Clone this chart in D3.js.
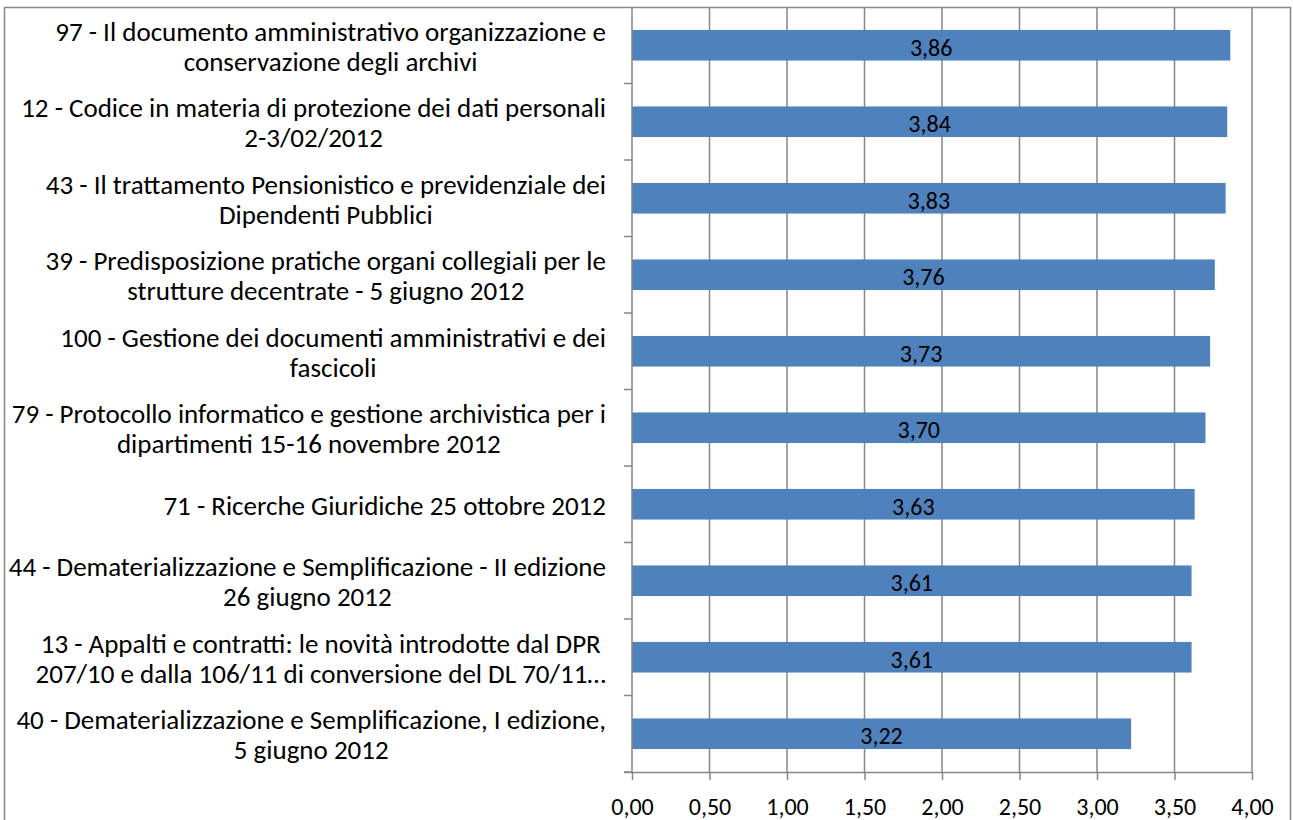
<!DOCTYPE html>
<html>
<head>
<meta charset="utf-8">
<script src="https://cdn.jsdelivr.net/npm/d3@7"></script>
<style>
  body { margin: 0; background: #fff; }
  text { font-family: Carlito, Calibri, Lato, sans-serif; fill: #000; }
</style>
</head>
<body>
<svg id="chart"></svg>
<script>
const width = 1293
const height = 820

// Category labels (one array of lines per course), top to bottom
const categories = [
    ['97 - Il documento amministrativo organizzazione e', 'conservazione degli archivi'],
    ['12 - Codice in materia di protezione dei dati personali', '2-3/02/2012'],
    ['43 - Il trattamento Pensionistico e previdenziale dei', 'Dipendenti Pubblici'],
    ['39 - Predisposizione pratiche organi collegiali per le', 'strutture decentrate - 5 giugno 2012'],
    ['100 - Gestione dei documenti amministrativi e dei', 'fascicoli'],
    ['79 - Protocollo informatico e gestione archivistica per i', 'dipartimenti 15-16 novembre 2012'],
    ['71 - Ricerche Giuridiche 25 ottobre 2012 '],
    ['44 - Dematerializzazione e Semplificazione - II edizione', '26 giugno 2012'],
    ['13 - Appalti e contratti: le novità introdotte dal DPR', '207/10 e dalla 106/11 di conversione del DL 70/11…'],
    ['40 - Dematerializzazione e Semplificazione, I edizione,', '5 giugno 2012']
];
const values = [3.86, 3.84, 3.83, 3.76, 3.73, 3.70, 3.63, 3.61, 3.61, 3.22];
const xTicks = [0, 0.5, 1, 1.5, 2, 2.5, 3, 3.5, 4];

const margin = { top: 7, right: 41, bottom: 48, left: 632 };
const fmt = v => d3.format('.2f')(v).replace('.', ',');

var svg = d3.select('#chart')
    .attr('width', width)
    .attr('height', height);

// Outer chart border
svg.append('rect')
    .attr('x', 4.5).attr('y', 7.5)
    .attr('width', 1286).attr('height', 830)
    .attr('fill', 'none')
    .attr('stroke', '#868686')
    .attr('stroke-width', 1.5);

var x = d3.scaleLinear()
    .domain([0, 4])
    .range([margin.left, width - margin.right]);

var idx = d3.range(categories.length);
var y = d3.scaleBand()
    .domain(idx)
    .range([margin.top, height - margin.bottom])
    .paddingInner(0.6)
    .paddingOuter(0.3);

// Vertical gridlines
svg.append('g')
    .selectAll('line')
    .data(xTicks.slice(1))
    .enter()
    .append('line')
    .attr('x1', d => x(d)).attr('x2', d => x(d))
    .attr('y1', margin.top).attr('y2', height - margin.bottom)
    .attr('stroke', '#868686')
    .attr('stroke-width', 1.5);

// Bars
svg.append('g')
    .selectAll('rect')
    .data(values)
    .enter()
    .append('rect')
    .attr('x', x(0))
    .attr('y', (d, i) => y(i))
    .attr('width', d => x(d) - x(0))
    .attr('height', y.bandwidth())
    .attr('fill', '#4f81bd');

// Value labels in the middle of the bars
svg.append('g')
    .selectAll('text')
    .data(values)
    .enter()
    .append('text')
    .attr('x', d => (x(0) + x(d)) / 2)
    .attr('y', (d, i) => y(i) + y.bandwidth() / 2 + 2)
    .attr('dy', '0.35em')
    .attr('text-anchor', 'middle')
    .style('font-size', '24px')
    .text(d => fmt(d));

// Bottom axis
var xAxis = svg.append('g')
    .attr('transform', `translate(0,${height - margin.bottom})`)
    .call(d3.axisBottom(x).tickValues(xTicks).tickFormat(fmt).tickSize(8).tickPadding(18));
xAxis.select('.domain').attr('stroke', '#868686').attr('stroke-width', 1.5)
    .attr('d', `M${x(0) - 8},0.5H${x(4)}`);
xAxis.selectAll('.tick line').attr('stroke', '#868686').attr('stroke-width', 1.5);
xAxis.selectAll('.tick text').style('font-size', '24px').attr('font-family', null);

// Left axis (category boundaries)
var step = y.step();
var boundaries = d3.range(categories.length + 1).map(i => margin.top + i * step);
svg.append('line')
    .attr('x1', x(0)).attr('x2', x(0))
    .attr('y1', margin.top).attr('y2', height - margin.bottom)
    .attr('stroke', '#868686')
    .attr('stroke-width', 1.5);
svg.append('g')
    .selectAll('line')
    .data(boundaries.slice(1))
    .enter()
    .append('line')
    .attr('x1', x(0) - 8).attr('x2', x(0))
    .attr('y1', d => d).attr('y2', d => d)
    .attr('stroke', '#868686')
    .attr('stroke-width', 1.5);

// Category labels: centred lines, block right-aligned to the axis
const labelRight = 606;
const lineH = 30;
var labels = svg.append('g')
    .selectAll('text')
    .data(categories)
    .enter()
    .append('text')
    .attr('text-anchor', 'middle')
    .style('font-size', '27px');

labels.each(function (lines, i) {
    var t = d3.select(this);
    var cy = y(i) + y.bandwidth() / 2 + 1;
    var y0 = cy - (lines.length - 1) * lineH / 2;
    var w = 0;
    lines.forEach((ln, j) => {
        var span = t.append('tspan')
            .attr('x', 0)
            .attr('y', y0 + j * lineH)
            .attr('dy', '0.35em')
            .text(ln);
        w = Math.max(w, span.node().getComputedTextLength());
    });
    t.selectAll('tspan').attr('x', labelRight - w / 2);
});
</script>
</body>
</html>
